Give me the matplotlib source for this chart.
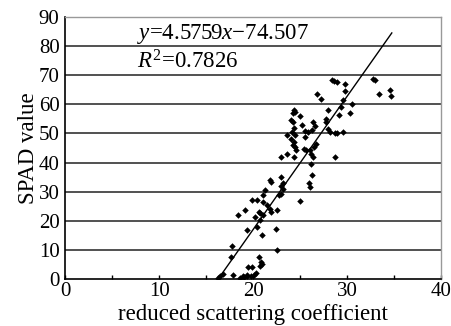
import numpy as np
import matplotlib.pyplot as plt

plt.rcParams['font.family'] = ['Liberation Serif', 'DejaVu Serif']
plt.rcParams['mathtext.fontset'] = 'custom'
plt.rcParams['mathtext.rm'] = 'Liberation Serif'
plt.rcParams['mathtext.it'] = 'Liberation Serif:italic'

### Data ###
x = [28.4, 28.6, 28.9, 29.8, 29.8, 32.8, 33.0, 33.4, 34.6, 34.7,
     26.8, 27.2, 28.0, 29.3, 30.5, 30.3, 29.1, 29.6, 27.8, 27.7,
     26.4, 26.6, 26.3, 28.0, 28.2, 28.7, 28.9, 29.6, 28.7,
     24.3, 24.5, 24.2, 25.0, 25.2, 24.0, 24.2, 24.3, 24.1, 23.6, 24.5,
     24.0, 24.4, 24.2, 24.5, 24.6, 24.3, 23.0, 23.6,
     25.5, 25.8, 25.5, 25.4, 25.6, 26.0, 26.2, 26.2, 26.4, 26.3,
     25.9, 26.0, 26.7, 26.5, 25.0,
     23.0, 23.2, 23.0, 23.2, 23.0, 22.7,
     21.8, 21.9, 21.3, 21.0, 21.1, 20.4, 19.9, 21.5, 21.8, 21.9, 22.5,
     20.7, 21.1, 20.6, 20.2, 20.7, 20.4, 20.9, 19.3, 22.4,
     18.4, 19.1, 22.5, 17.8, 17.7,
     16.3, 16.5, 16.8, 17.9, 18.6, 18.9, 19.3, 19.5, 19.8, 20.1, 19.9, 20.3,
     20.6, 20.8, 20.7, 20.9, 19.3, 19.0]
y = [68.5, 68.0, 67.8, 66.9, 64.6, 68.8, 68.2, 63.4, 65.0, 62.7,
     63.4, 61.7, 58.0, 59.0, 60.0, 57.0, 56.2, 61.4, 55.0, 54.0,
     54.0, 52.4, 51.3, 51.6, 50.5, 50.2, 50.0, 50.5, 42.0,
     58.0, 57.5, 57.0, 56.0, 52.8, 54.5, 54.0, 52.0, 50.5, 49.4, 49.4,
     48.0, 47.0, 46.0, 45.5, 44.2, 42.0, 42.0, 43.0,
     51.0, 50.5, 48.8, 44.8, 44.2, 44.4, 43.0, 39.6, 41.9, 35.6,
     33.0, 31.6, 46.5, 45.5, 26.8,
     35.0, 33.0, 32.0, 31.0, 29.3, 28.7,
     33.9, 33.3, 30.5, 28.7, 26.5, 27.0, 27.3, 25.3, 24.2, 23.0, 23.6,
     22.8, 22.0, 23.0, 21.3, 20.2, 17.9, 15.0, 16.7, 17.3,
     21.9, 23.6, 10.0, 11.2, 7.5,
     0.5, 1.0, 1.8, 1.3, 0.5, 1.2, 1.5, 4.0, 1.0, 1.5, 4.0, 2.0,
     7.5, 6.0, 4.5, 5.0, 1.0, 0.8]

slope = 4.5759
intercept = -74.507
line_x = [16.3, 34.75]

### Plot ###
fig = plt.figure(figsize=(4.52, 3.26), dpi=100)
ax = fig.add_axes([0.144, 0.144, 0.832, 0.804])

for v in range(10, 90, 10):
    ax.axhline(v, color='#222222', lw=1.1, zorder=1)

ax.scatter(x, y, marker='D', s=11, color='black', zorder=3, linewidths=0)
lx = np.array(line_x)
ax.plot(lx, slope * lx + intercept, color='black', lw=1.0, zorder=2)

ax.set_xlim(0, 40)
ax.set_ylim(0, 90)
ax.set_xticks([0, 10, 20, 30, 40])
ax.set_xticks([5, 15, 25, 35], minor=True)
ax.set_yticks(range(0, 100, 10))
ax.tick_params(axis='x', which='both', direction='in', length=3, width=1,
               labelsize=15, pad=2)
ax.tick_params(axis='y', length=0, labelsize=15, pad=4)

for s in ['left', 'bottom']:
    ax.spines[s].set_color('black')
    ax.spines[s].set_linewidth(1.2)
for s in ['top', 'right']:
    ax.spines[s].set_color('#999999')
    ax.spines[s].set_linewidth(1.0)

ax.set_xlabel('reduced scattering coefficient', fontsize=16.5, labelpad=2)
ax.set_ylabel('SPAD value', fontsize=16.5, labelpad=0)

ax.text(7.6, 84.0, r'$y$=4.5759$x$−74.507', fontsize=16.5,
        va='center', ha='left')
ax.text(7.6, 74.5, r'$R^2$=0.7826', fontsize=16.5, va='center', ha='left')

fig.savefig('out.png', dpi=100)
